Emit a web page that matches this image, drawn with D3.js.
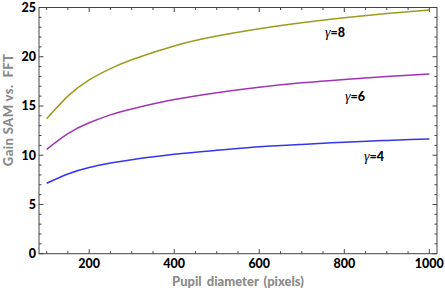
<!DOCTYPE html>
<html>
<head>
<meta charset="utf-8">
<script src="https://cdn.jsdelivr.net/npm/d3@7"></script>
<style>
  body { margin: 0; background: #fff; }
  svg { display: block; font-family: Lato, "DejaVu Sans", sans-serif; }
</style>
</head>
<body>
<svg></svg>
<script>
// pupil diameter samples (pixels)
let diameters = [100, 150, 200, 250, 300, 400, 500, 600, 700, 800, 900, 1000];
// gain for each gamma
let gain8 = [13.7, 16.0, 17.65, 18.8, 19.7, 21.1, 22.1, 22.85, 23.45, 23.95, 24.38, 24.75];
let gain6 = [10.6, 12.2, 13.3, 14.1, 14.7, 15.65, 16.35, 16.9, 17.35, 17.7, 18.0, 18.25];
let gain4 = [7.15, 8.1, 8.75, 9.2, 9.55, 10.1, 10.5, 10.85, 11.1, 11.32, 11.5, 11.65];
let seriesNames = ["8", "6", "4"];
let xTicks = [200, 400, 600, 800, 1000];
let yTicks = [0, 5, 10, 15, 20, 25];

window.onload = function () {
    let width = 445, height = 292;
    let margin = { left: 39, right: 8, top: 7.5, bottom: 38.3 };
    let svg = d3.select("svg").attr("width", width).attr("height", height);

    let x = d3.scaleLinear().domain([82, 1018]).range([margin.left, width - margin.right]);
    let y = d3.scaleLinear().domain([0, 25]).range([height - margin.bottom, margin.top]);

    let frameColor = "#444";
    let g = svg.append("g");

    // frame
    g.append("rect")
        .attr("x", x.range()[0]).attr("y", y.range()[1])
        .attr("width", x.range()[1] - x.range()[0])
        .attr("height", y.range()[0] - y.range()[1])
        .attr("fill", "none").attr("stroke", frameColor).attr("stroke-width", 1);

    // minor + major ticks on all four sides
    let xMinor = d3.range(100, 1001, 50);
    let yMinor = d3.range(0, 25.01, 1);
    xMinor.forEach(function (v) {
        let len = v % 200 == 0 ? 4.5 : 2.5;
        g.append("line").attr("x1", x(v)).attr("x2", x(v))
            .attr("y1", y(0)).attr("y2", y(0) - len).attr("stroke", frameColor);
        g.append("line").attr("x1", x(v)).attr("x2", x(v))
            .attr("y1", y(25)).attr("y2", y(25) + len).attr("stroke", frameColor);
    });
    yMinor.forEach(function (v) {
        let len = v % 5 == 0 ? 4.5 : 2.5;
        g.append("line").attr("x1", x.range()[0]).attr("x2", x.range()[0] + len)
            .attr("y1", y(v)).attr("y2", y(v)).attr("stroke", frameColor);
        g.append("line").attr("x1", x.range()[1]).attr("x2", x.range()[1] - len)
            .attr("y1", y(v)).attr("y2", y(v)).attr("stroke", frameColor);
    });

    // tick labels
    g.selectAll("text.xt").data(xTicks).enter().append("text")
        .attr("class", "xt")
        .attr("x", function (d) { return x(d); })
        .attr("y", y(0) + 14.5)
        .attr("text-anchor", "middle")
        .attr("font-size", 12.5).attr("font-weight", 900)
        .text(function (d) { return d; });
    g.selectAll("text.yt").data(yTicks).enter().append("text")
        .attr("class", "yt")
        .attr("x", x.range()[0] - 3)
        .attr("y", function (d) { return y(d) + 4.5; })
        .attr("text-anchor", "end")
        .attr("font-size", 12.5).attr("font-weight", 900)
        .text(function (d) { return d; });

    // axis titles
    svg.append("text")
        .attr("x", 238).attr("y", 286)
        .attr("text-anchor", "middle")
        .attr("font-size", 13).attr("font-weight", 900).attr("fill", "#8a8a8a")
        .attr("word-spacing", 2)
        .text("Pupil diameter (pixels)");
    svg.append("text")
        .attr("transform", "translate(13,110) rotate(-90)")
        .attr("text-anchor", "middle")
        .attr("font-size", 13).attr("font-weight", 900).attr("fill", "#8a8a8a")
        .attr("letter-spacing", 0.4)
        .attr("xml:space", "preserve")
        .text("Gain SAM vs.  FFT");

    // curves
    let series = [gain8, gain6, gain4];
    let colors = ["#9b9b1f", "#a033b5", "#3535ee"];
    let line = d3.line()
        .x(function (d) { return x(d[0]); })
        .y(function (d) { return y(d[1]); })
        .curve(d3.curveNatural);
    series.forEach(function (s, i) {
        let pts = diameters.map(function (dv, k) { return [dv, s[k]]; });
        g.append("path").attr("d", line(pts))
            .attr("fill", "none").attr("stroke", colors[i]).attr("stroke-width", 1.5);
    });

    // gamma labels
    let labelPos = [[335, 37], [355, 101], [374, 161]];
    seriesNames.forEach(function (n, i) {
        let t = g.append("text")
            .attr("x", labelPos[i][0]).attr("y", labelPos[i][1])
            .attr("text-anchor", "middle").attr("font-size", 12.5);
        t.append("tspan").attr("font-style", "italic")
            .attr("font-family", "'Liberation Serif', serif").attr("font-size", 14).text("γ");
        t.append("tspan").attr("font-weight", 900).text("=" + n);
    });
}
</script>
</body>
</html>
